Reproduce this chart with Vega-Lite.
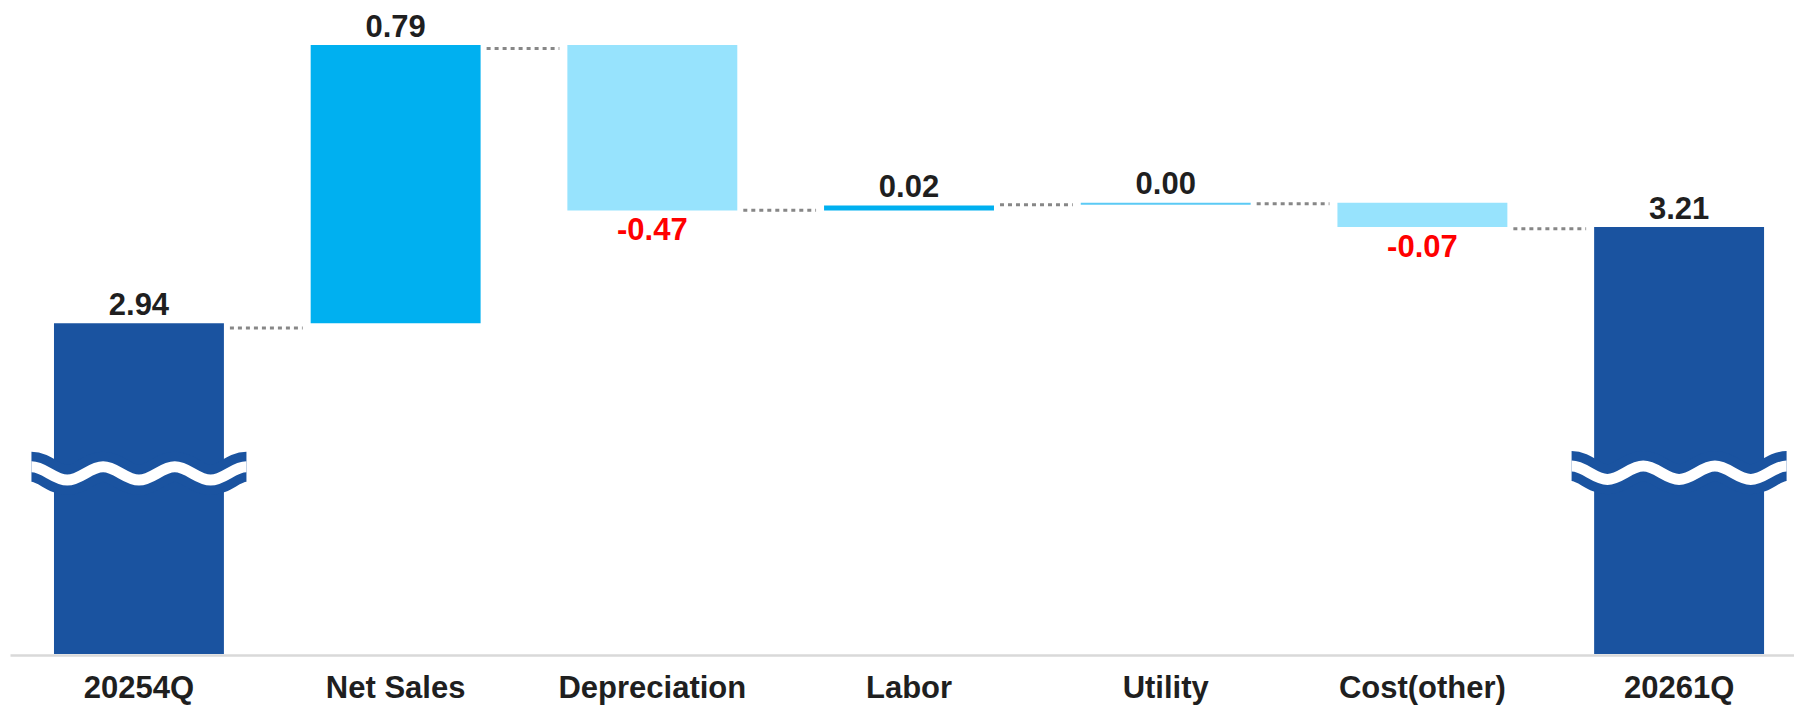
{
  "$schema": "https://vega.github.io/schema/vega-lite/v6.json",
  "autosize": {"type": "none"},
  "width": 1784,
  "height": 654,
  "padding": {"left": 10, "top": 0, "right": 0, "bottom": 51},
  "background": "white",
  "config": {"view": {"stroke": null}},
  "datasets": {
    "steps": [
      {"cat": "20254Q", "start": 0, "end": 2.94, "label": "2.94", "kind": "total"},
      {"cat": "Net Sales", "start": 2.94, "end": 3.73, "label": "0.79", "kind": "inc"},
      {"cat": "Depreciation", "start": 3.73, "end": 3.26, "label": "-0.47", "kind": "dec"},
      {"cat": "Labor", "start": 3.26, "end": 3.274, "label": "0.02", "kind": "inc"},
      {"cat": "Utility", "start": 3.276, "end": 3.282, "label": "0.00", "kind": "zero"},
      {"cat": "Cost(other)", "start": 3.282, "end": 3.213, "label": "-0.07", "kind": "dec"},
      {"cat": "20261Q", "start": 0, "end": 3.213, "label": "3.21", "kind": "total"}
    ],
    "links": [
      {"from": "20254Q", "to": "Net Sales", "level": 2.926},
      {"from": "Net Sales", "to": "Depreciation", "level": 3.72},
      {"from": "Depreciation", "to": "Labor", "level": 3.261},
      {"from": "Labor", "to": "Utility", "level": 3.276},
      {"from": "Utility", "to": "Cost(other)", "level": 3.279},
      {"from": "Cost(other)", "to": "20261Q", "level": 3.208}
    ],
    "breaks": [
      {"cat": "20254Q", "brk": 2.513},
      {"cat": "20261Q", "brk": 2.515}
    ]
  },
  "encoding": {
    "x": {
      "field": "cat",
      "type": "nominal",
      "title": null,
      "scale": {
        "domain": ["20254Q", "Net Sales", "Depreciation", "Labor", "Utility", "Cost(other)", "20261Q"],
        "paddingInner": 0.338,
        "paddingOuter": 0.144,
        "align": 0.595
      },
      "axis": {
        "labelAngle": 0,
        "labelFont": "Liberation Sans",
        "labelFontWeight": "bold",
        "labelFontSize": 31,
        "labelColor": "#1f1f1f",
        "labelPadding": 18,
        "labelLimit": 0,
        "labelOverlap": false,
        "ticks": false,
        "tickSize": 0,
        "domainColor": "#d9d9d9",
        "domainWidth": 2.5,
        "offset": 1,
        "grid": false
      }
    }
  },
  "layer": [
    {
      "data": {"name": "steps"},
      "mark": {"type": "bar", "cornerRadius": 0},
      "encoding": {
        "y": {"field": "start", "type": "quantitative", "axis": null,
              "scale": {"domain": [2.0, 3.858], "zero": false, "nice": false, "clamp": true}},
        "y2": {"field": "end"},
        "color": {"field": "kind", "type": "nominal", "legend": null,
                  "scale": {"domain": ["total", "inc", "dec", "zero"],
                            "range": ["#1a53a0", "#00b0f0", "#97e3fd", "#5bcaf5"]}}
      }
    },
    {
      "data": {"name": "breaks"},
      "mark": {"type": "point", "filled": false, "opacity": 1, "stroke": "#1a53a0", "strokeWidth": 30, "size": 46225,
               "shape": "M-1,-0.062 C-0.88,-0.062 -0.7867,0.062 -0.6667,0.062 S-0.4533,-0.062 -0.3333,-0.062 S-0.12,0.062 0,0.062 S0.2133,-0.062 0.3333,-0.062 S0.5467,0.062 0.6667,0.062 S0.88,-0.062 1,-0.062"},
      "encoding": {
        "y": {"field": "brk", "type": "quantitative"}
      }
    },
    {
      "data": {"name": "breaks"},
      "mark": {"type": "point", "filled": false, "opacity": 1, "stroke": "white", "strokeWidth": 11, "size": 46225,
               "shape": "M-1,-0.062 C-0.88,-0.062 -0.7867,0.062 -0.6667,0.062 S-0.4533,-0.062 -0.3333,-0.062 S-0.12,0.062 0,0.062 S0.2133,-0.062 0.3333,-0.062 S0.5467,0.062 0.6667,0.062 S0.88,-0.062 1,-0.062"},
      "encoding": {
        "y": {"field": "brk", "type": "quantitative"}
      }
    },
    {
      "data": {"name": "links"},
      "mark": {"type": "rule", "stroke": "#878787", "strokeWidth": 3, "strokeDash": [4, 4], "xOffset": 6, "x2Offset": -8},
      "encoding": {
        "x": {"field": "from", "type": "nominal", "bandPosition": 1},
        "x2": {"field": "to", "bandPosition": 0},
        "y": {"field": "level", "type": "quantitative"}
      }
    },
    {
      "data": {"name": "steps"},
      "transform": [{"filter": "datum.kind !== 'dec'"}],
      "mark": {"type": "text", "font": "Liberation Sans", "fontWeight": "bold", "fontSize": 31, "color": "#1f1f1f", "baseline": "alphabetic", "dy": -8.5},
      "encoding": {
        "y": {"field": "end", "type": "quantitative"},
        "text": {"field": "label"}
      }
    },
    {
      "data": {"name": "steps"},
      "transform": [{"filter": "datum.kind === 'dec'"}],
      "mark": {"type": "text", "font": "Liberation Sans", "fontWeight": "bold", "fontSize": 31, "color": "#ff0000", "baseline": "alphabetic", "dy": 29.5},
      "encoding": {
        "y": {"field": "end", "type": "quantitative"},
        "text": {"field": "label"}
      }
    }
  ]
}
